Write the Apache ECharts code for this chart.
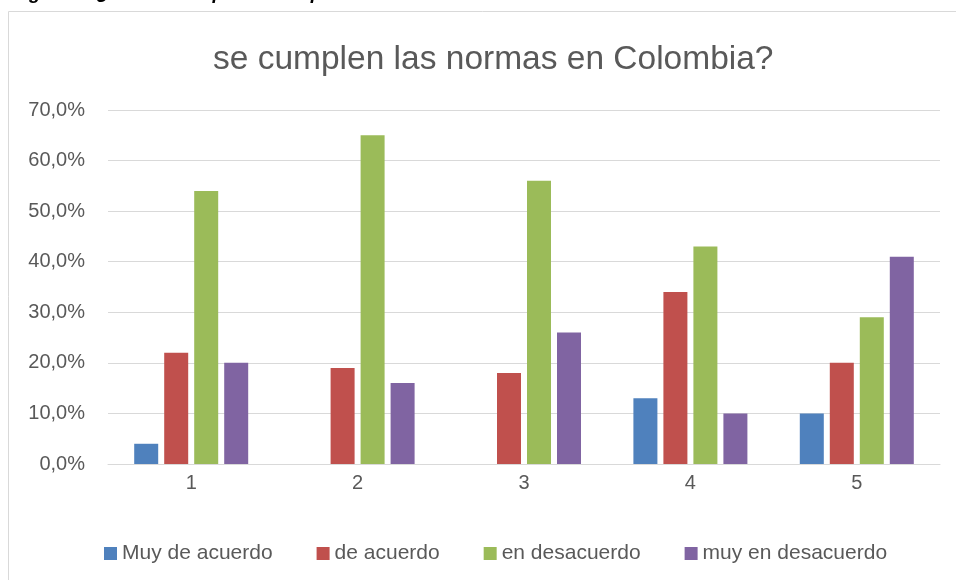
<!DOCTYPE html>
<html>
<head>
<meta charset="utf-8">
<script src="https://cdn.jsdelivr.net/npm/echarts@6/dist/echarts.min.js"></script>
<style>
  html, body { margin: 0; padding: 0; background: #fff; }
  #chart { width: 956px; height: 580px; }
</style>
</head>
<body>
<div id="chart"></div>
<script>
// datos
var categorias = ["1", "2", "3", "4", "5"];
var nombres = ["Muy de acuerdo", "de acuerdo", "en desacuerdo", "muy en desacuerdo"];
var muyDeAcuerdo = [0.04, 0, 0, 0.13, 0.10];
var deAcuerdo = [0.22, 0.19, 0.18, 0.34, 0.20];
var enDesacuerdo = [0.54, 0.65, 0.56, 0.43, 0.29];
var muyEnDesacuerdo = [0.20, 0.16, 0.26, 0.10, 0.41];
var colores = ["#4F81BD", "#C0504D", "#9BBB59", "#8064A2"];

var txt = "#595959";
var fuente = "Liberation Sans, sans-serif";

var valores = [muyDeAcuerdo, deAcuerdo, enDesacuerdo, muyEnDesacuerdo];
var series = [];
for (var i = 0; i < nombres.length; i++) {
  series.push({
    name: nombres[i],
    type: "bar",
    data: valores[i],
    barWidth: 24,
    barGap: "25%",
    itemStyle: { color: colores[i] }
  });
}

var chart = echarts.init(document.getElementById("chart"));
chart.setOption({
  animation: false,
  color: colores,
  title: {
    text: "se cumplen las normas en Colombia?",
    left: 208,
    top: 38,
    textStyle: { color: txt, fontSize: 33.5, fontWeight: "normal", fontFamily: fuente }
  },
  graphic: [
    {
      type: "rect",
      shape: { x: 8.5, y: 11.5, width: 1000, height: 600 },
      style: { fill: null, stroke: "#d9d9d9", lineWidth: 1 },
      silent: true
    },
    {
      type: "text",
      left: 12,
      top: -16,
      style: {
        text: "Figura 9. ¿Considera que se cumplen las normas de tránsito en Colombia?",
        font: "italic bold 19px Liberation Sans, sans-serif",
        fill: "#000"
      }
    }
  ],
  legend: {
    data: nombres,
    left: 99,
    top: 538,
    itemWidth: 13,
    itemHeight: 13,
    itemGap: 44,
    icon: "rect",
    textStyle: { color: txt, fontSize: 21, fontFamily: fuente }
  },
  grid: { left: 108, right: 16, top: 110, bottom: 116 },
  xAxis: {
    type: "category",
    data: categorias,
    axisLine: { lineStyle: { color: "#d9d9d9", width: 1 } },
    axisTick: { show: false },
    axisLabel: { color: txt, fontSize: 20, fontFamily: fuente, margin: 9 }
  },
  yAxis: {
    type: "value",
    min: 0,
    max: 0.7,
    interval: 0.1,
    axisLine: { show: false },
    axisTick: { show: false },
    splitLine: { lineStyle: { color: "#d9d9d9", width: 1 } },
    axisLabel: {
      color: txt,
      fontSize: 20,
      fontFamily: fuente,
      margin: 23,
      formatter: function (v) { return (v * 100).toFixed(1).replace(".", ",") + "%"; }
    }
  },
  series: series
});
</script>
</body>
</html>
